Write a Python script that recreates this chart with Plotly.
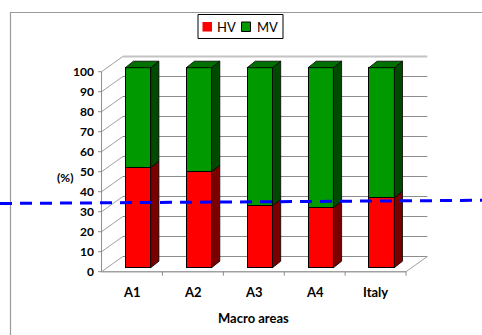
import plotly.graph_objects as go

# ---- data -------------------------------------------------------------
areas = ["A1", "A2", "A3", "A4", "Italy"]
hv_share = [50, 48, 31, 30, 35]          # HV share (%)
mv_share = [50, 52, 69, 70, 65]          # MV share (%)
y_ticks = [0, 10, 20, 30, 40, 50, 60, 70, 80, 90, 100]
guide_level = [32.1, 33.7]               # dashed reference line (left, right)

# ---- pseudo-3D geometry (x in category units, y in %) -----------------
W, H = 482, 335
PX_X = 60.9                               # pixels per category
PX_Y = 2.0                                # pixels per percent
X0_PX, Y0_PX = 138.0, 267.7               # pixel position of (0, 0) on the bar plane
BAR_W = 0.417
DEPTH = (8.2 / PX_X, 3.25)                # bar depth offset
FRONT = (-6.0 / PX_X, -2.0)               # front (axis) plane offset
BACK = (15.3 / PX_X, 5.6)                 # back wall offset
L, R = -0.5, len(areas) - 0.5

x_range = [-X0_PX / PX_X, (W - X0_PX) / PX_X]
y_range = [-(H - Y0_PX) / PX_Y, Y0_PX / PX_Y]

RED, RED_SIDE = "#FF0000", "#7A0000"
GREEN, GREEN_SIDE, GREEN_TOP = "#009900", "#004A00", "#007000"
GRID, WALL_EDGE = "#8C8C8C", "#C4C4C4"
FONT = "Lato"

fig = go.Figure()

# front faces of the stacked bars
fig.add_trace(go.Bar(x=list(range(len(areas))), y=hv_share, width=BAR_W, name="HV",
                     marker=dict(color=RED, line=dict(color="black", width=1)),
                     showlegend=False, hoverinfo="skip"))
fig.add_trace(go.Bar(x=list(range(len(areas))), y=mv_share, width=BAR_W, name="MV",
                     marker=dict(color=GREEN, line=dict(color="black", width=1)),
                     showlegend=False, hoverinfo="skip"))


def face(xs, ys, color):
    fig.add_trace(go.Scatter(x=xs + [xs[0]], y=ys + [ys[0]], mode="lines", fill="toself",
                             fillcolor=color, line=dict(color="black", width=0.8),
                             showlegend=False, hoverinfo="skip"))


dx, dy = DEPTH
for i, (hv, mv) in enumerate(zip(hv_share, mv_share)):
    xl, xr = i - BAR_W / 2, i + BAR_W / 2
    top = hv + mv
    # side faces
    face([xr, xr + dx, xr + dx, xr], [0, dy, hv + dy, hv], RED_SIDE)
    face([xr, xr + dx, xr + dx, xr], [hv, hv + dy, top + dy, top], GREEN_SIDE)
    # top face
    face([xl, xr, xr + dx, xl + dx], [top, top, top + dy, top + dy], GREEN_TOP)

shapes = []
fx, fy = FRONT
bx, by = BACK


def seg(x0, y0, x1, y1, color, width=1, layer="below", **kw):
    shapes.append(dict(type="line", xref="x", yref="y", x0=x0, y0=y0, x1=x1, y1=y1,
                       line=dict(color=color, width=width, **kw), layer=layer))


# back wall gridlines and side wall diagonals
for v in y_ticks:
    top_edge = v == y_ticks[-1]
    seg(L + bx, v + by, R + bx, v + by, WALL_EDGE if top_edge else GRID, 2 if top_edge else 1)
    seg(L + fx, v + fy, L + bx, v + by, "#A0A0A0", 1)
    # tick marks on the value axis
    seg(L + fx - 3.5 / PX_X, v + fy, L + fx, v + fy, GRID, 1)

# floor edges and value axis line
seg(L + fx, fy, R + fx, fy, "#A0A0A0", 1.5)
seg(R + fx, fy, R + bx, by, "#A0A0A0", 1)
seg(L + fx, fy, L + fx, y_ticks[-1] + fy, GRID, 1)
# category tick marks below the floor
for k in range(len(areas)):
    seg(k + 0.5 + fx, fy, k + 0.5 + fx, fy - 2.0, GRID, 1)

# dashed reference line across the whole chart
shapes.append(dict(type="line", xref="x", yref="y", x0=x_range[0], x1=x_range[1],
                   y0=guide_level[0], y1=guide_level[1], layer="above",
                   line=dict(color="#0000FF", width=3, dash="12px,8px")))

# outer chart frame
shapes.append(dict(type="rect", xref="paper", yref="paper", x0=10.5 / W, y0=-0.05,
                   x1=1.05, y1=1 - 12.5 / H, line=dict(color="#9A9A9A", width=1.2),
                   layer="below"))

# legend box and swatches
def px_rect(x0, y0, x1, y1, fill, line_color, lw):
    shapes.append(dict(type="rect", xref="paper", yref="paper", x0=x0 / W, x1=x1 / W,
                       y0=1 - y1 / H, y1=1 - y0 / H, fillcolor=fill,
                       line=dict(color=line_color, width=lw), layer="above"))


px_rect(198, 14.5, 283, 38.5, "white", "black", 1)
px_rect(202.5, 22, 212, 31.5, RED, RED, 0)
px_rect(241.5, 22, 250.5, 31.5, GREEN, "black", 1)

annotations = []
for v in y_ticks:
    annotations.append(dict(x=L + fx - 5.5 / PX_X, y=v + fy, xref="x", yref="y",
                            text=f"<b>{v}</b>", showarrow=False, xanchor="right",
                            yanchor="middle", font=dict(family=FONT, size=12, color="black")))
for i, name in enumerate(areas):
    annotations.append(dict(x=i + fx, y=-12, xref="x", yref="y", text=f"<b>{name}</b>",
                            showarrow=False, xanchor="center", yanchor="middle",
                            font=dict(family=FONT, size=13, color="black")))
annotations.append(dict(x=(L + R) / 2 + fx, y=-25, xref="x", yref="y",
                        text="<b>Macro areas</b>", showarrow=False, yanchor="middle",
                        font=dict(family=FONT, size=13, color="black")))
annotations.append(dict(x=L + fx - 0.6, y=45, xref="x", yref="y", text="<b>(%)</b>",
                        showarrow=False, yanchor="middle",
                        font=dict(family=FONT, size=12, color="black")))
for label, left in (("HV", 215), ("MV", 254.5)):
    annotations.append(dict(x=left / W, y=1 - 26.8 / H, xref="paper", yref="paper",
                            text=label, showarrow=False, xanchor="left", yanchor="middle",
                            font=dict(family=FONT, size=13, color="black")))

fig.update_layout(
    width=W, height=H, margin=dict(l=0, r=0, t=0, b=0),
    paper_bgcolor="white", plot_bgcolor="white",
    barmode="stack", showlegend=False,
    xaxis=dict(range=x_range, visible=False, fixedrange=True),
    yaxis=dict(range=y_range, visible=False, fixedrange=True),
    shapes=shapes, annotations=annotations,
)

fig.write_html("out.html")
